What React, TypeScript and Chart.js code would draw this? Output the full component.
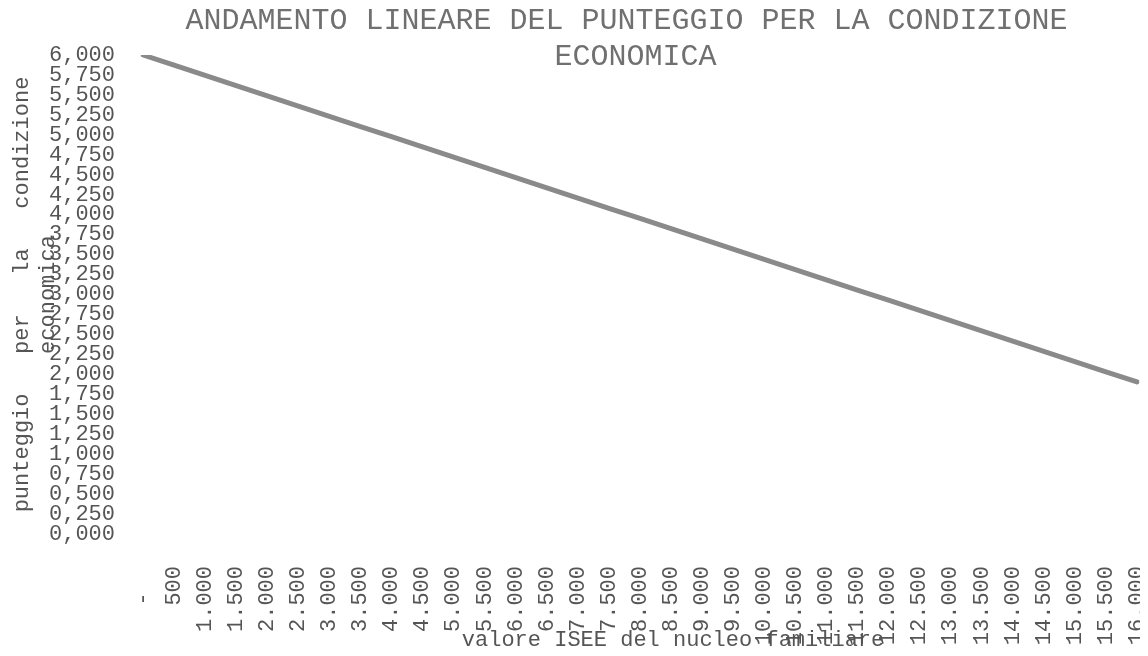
import React, { useEffect, useRef } from "react";
import { Chart, registerables } from "chart.js";

Chart.register(...registerables);

// ISEE categories (tick labels as printed on the x axis)
const iseeLabels = [
  "-  ", "500", "1.000", "1.500", "2.000", "2.500", "3.000", "3.500", "4.000",
  "4.500", "5.000", "5.500", "6.000", "6.500", "7.000", "7.500", "8.000",
  "8.500", "9.000", "9.500", "10.000", "10.500", "11.000", "11.500", "12.000",
  "12.500", "13.000", "13.500", "14.000", "14.500", "15.000", "15.500", "16.000",
];

// Score for the economic condition
const punteggio = [
  6.0, 5.872, 5.744, 5.616, 5.488, 5.36, 5.232, 5.104, 4.976, 4.848, 4.72,
  4.592, 4.464, 4.336, 4.208, 4.08, 3.952, 3.824, 3.696, 3.568, 3.44, 3.312,
  3.184, 3.056, 2.928, 2.8, 2.672, 2.544, 2.416, 2.288, 2.16, 2.032, 1.904,
];

const yMin = 0;
const yMax = 6;
const yStep = 0.25;

const chartTitle = [
  "      ANDAMENTO LINEARE DEL PUNTEGGIO PER LA CONDIZIONE",
  "       ECONOMICA",
];
const yTitle = ["punteggio   per   la   condizione", "economica"];
const xTitle = "     valore ISEE del nucleo familiare";

const FONT = "'Liberation Mono', 'Courier New', monospace";

export default function App() {
  const ref = useRef<HTMLCanvasElement | null>(null);

  useEffect(() => {
    if (!ref.current) return;
    const chart = new Chart(ref.current, {
      type: "line",
      data: {
        labels: iseeLabels,
        datasets: [
          {
            data: punteggio,
            borderColor: "#8a8a8a",
            borderWidth: 5,
            borderCapStyle: "round",
            pointRadius: 0,
            fill: false,
            tension: 0,
          },
        ],
      },
      options: {
        animation: false,
        responsive: true,
        maintainAspectRatio: false,
        layout: { padding: { left: 0, right: 11, top: 0, bottom: 0 } },
        plugins: {
          legend: { display: false },
          tooltip: { enabled: false },
          title: {
            display: true,
            text: chartTitle,
            color: "#707070",
            font: { family: FONT, size: 30, lineHeight: 1.2, weight: "normal" },
            padding: { top: -5, bottom: -20 },
          },
        },
        scales: {
          x: {
            type: "category",
            offset: false,
            grid: { display: false, drawTicks: false },
            border: { display: false },
            ticks: {
              autoSkip: false,
              minRotation: 90,
              maxRotation: 90,
              padding: 32,
              color: "#555",
              font: { family: FONT, size: 22, lineHeight: 1.2 },
            },
            title: {
              display: true,
              text: xTitle,
              color: "#555",
              font: { family: FONT, size: 22, lineHeight: 1.2 },
              padding: { top: -50.4, bottom: -5.2 },
            },
            afterFit: (scale: any) => {
              scale.paddingLeft = 0;
              scale.paddingRight = 0;
            },
          },
          y: {
            type: "linear",
            min: yMin,
            max: yMax,
            grid: { display: false, drawTicks: false },
            border: { display: false },
            ticks: {
              stepSize: yStep,
              autoSkip: false,
              padding: 28,
              color: "#555",
              font: { family: FONT, size: 22, lineHeight: 1.2 },
              callback: (v: any) => Number(v).toFixed(3).replace(".", ","),
            },
            title: {
              display: true,
              text: yTitle,
              color: "#555",
              font: { family: FONT, size: 22, lineHeight: 1.2 },
              padding: { top: 1, bottom: -40.8 },
            },
          },
        },
      },
    });
    return () => chart.destroy();
  }, []);

  return (
    <div style={{ position: "relative", width: 1140, height: 640 }}>
      <canvas ref={ref} />
    </div>
  );
}
